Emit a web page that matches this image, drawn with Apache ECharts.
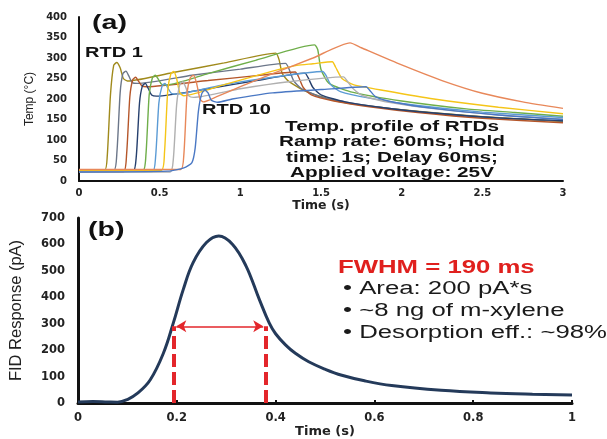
<!DOCTYPE html>
<html>
<head>
<meta charset="utf-8">
<script src="https://cdn.jsdelivr.net/npm/echarts@6.0.0/dist/echarts.min.js"></script>
<style>
  html, body { margin: 0; padding: 0; background: #fff; }
  #chart { width: 607px; height: 439px; }
</style>
</head>
<body>
<div id="chart"></div>
<script>
// panel (a): temperature profiles, [time s, temp C]
const rtd1 = [[0,27],[0.16,27],[0.175,60],[0.195,210],[0.215,282],[0.234,289],[0.255,276],[0.275,250],[0.3,244],[0.6,266],[0.9,288],[1.22,312],[1.24,296],[1.26,262],[1.3,243],[1.41,218],[1.62,193],[2.0,174],[2.5,157],[3.0,145]];
const rtd2 = [[0,25],[0.215,25],[0.235,70],[0.255,215],[0.272,262],[0.291,268],[0.31,255],[0.33,240],[0.36,238],[0.7,258],[1.0,273],[1.28,287],[1.3,275],[1.33,245],[1.38,225],[1.5,205],[1.75,186],[2.1,169],[2.5,156],[3.0,146]];
const rtd3 = [[0,22],[0.275,22],[0.295,65],[0.315,205],[0.333,247],[0.351,253],[0.37,243],[0.39,232],[0.42,230],[0.8,245],[1.1,257],[1.34,266],[1.36,255],[1.39,228],[1.44,210],[1.58,195],[1.8,181],[2.1,167],[2.5,153],[3.0,142]];
const rtd4 = [[0,24],[0.335,24],[0.355,60],[0.375,190],[0.393,232],[0.411,238],[0.43,225],[0.45,210],[0.48,207],[0.8,225],[1.1,245],[1.4,263],[1.42,252],[1.45,228],[1.5,210],[1.65,193],[1.9,178],[2.2,166],[2.6,154],[3.0,147]];
const rtd5 = [[0,25],[0.395,25],[0.415,65],[0.435,210],[0.455,252],[0.473,258],[0.492,248],[0.512,236],[0.54,234],[0.8,262],[1.1,295],[1.46,332],[1.48,320],[1.5,272],[1.55,238],[1.7,216],[2.0,195],[2.4,176],[2.7,167],[3.0,158]];
const rtd6 = [[0,23],[0.455,23],[0.475,60],[0.495,190],[0.515,232],[0.533,238],[0.552,226],[0.572,214],[0.6,212],[0.9,235],[1.2,253],[1.51,267],[1.53,258],[1.56,235],[1.62,218],[1.8,202],[2.1,184],[2.5,168],[3.0,155]];
const rtd7 = [[0,26],[0.51,26],[0.53,70],[0.55,220],[0.57,262],[0.587,267],[0.605,250],[0.625,215],[0.65,208],[0.9,235],[1.2,268],[1.35,282],[1.45,286],[1.57,291],[1.59,278],[1.63,250],[1.7,235],[1.9,220],[2.2,200],[2.6,180],[3.0,164]];
const rtd8 = [[0,22],[0.565,22],[0.585,55],[0.605,185],[0.625,236],[0.643,242],[0.662,228],[0.682,207],[0.71,204],[1.0,225],[1.3,242],[1.64,254],[1.66,245],[1.7,225],[1.76,208],[1.95,190],[2.25,174],[2.6,161],[3.0,151]];
const rtd9 = [[0,28],[0.63,28],[0.65,65],[0.67,215],[0.69,252],[0.709,258],[0.728,240],[0.75,200],[0.77,193],[0.85,205],[1.0,230],[1.2,262],[1.45,300],[1.68,337],[1.75,325],[2.0,283],[2.25,245],[2.5,214],[2.75,193],[3.0,177]];
const rtd10 = [[0,22],[0.55,24],[0.65,32],[0.7,45],[0.72,80],[0.74,170],[0.76,212],[0.78,222],[0.8,215],[0.82,197],[0.86,192],[0.95,200],[1.2,215],[1.5,223],[1.78,230],[1.8,222],[1.84,205],[1.95,192],[2.2,177],[2.6,161],[3.0,150]];

const rtdNames = ['RTD 1', 'RTD 2', 'RTD 3', 'RTD 4', 'RTD 5', 'RTD 6', 'RTD 7', 'RTD 8', 'RTD 9', 'RTD 10'];
const rtdColors = ['#a08a1c', '#6b7689', '#b5562a', '#26406e', '#6fae4a', '#5b9bd5', '#f5c518', '#b0b0b0', '#e8885a', '#4a78c4'];
const rtdCurves = [rtd1, rtd2, rtd3, rtd4, rtd5, rtd6, rtd7, rtd8, rtd9, rtd10];

// panel (b): FID response
const fidTime = [0, 0.03, 0.06, 0.08, 0.1, 0.12, 0.146, 0.173, 0.193, 0.213, 0.233, 0.26, 0.285, 0.313, 0.34, 0.367, 0.387, 0.4, 0.42, 0.44, 0.467, 0.5, 0.534, 0.58, 0.635, 0.735, 0.835, 0.92, 1.0];
const fidValue = [4, 6, 4, 3, 13, 36, 87, 189, 303, 429, 531, 607, 632, 600, 519, 392, 303, 262, 220, 188, 156, 128, 105, 84, 66, 48, 38, 33, 30];

const fwhmStart = 0.193;
const fwhmEnd = 0.381;
const fwhmLevel = 290;

const textBlock = ['Temp. profile of RTDs', 'Ramp rate: 60ms; Hold', 'time: 1s; Delay 60ms;', 'Applied voltage: 25V'];
const bullets = ['\u2022 Area: 200 pA*s', '\u2022 ~8 ng of m-xylene', '\u2022 Desorption eff.: ~98%'];

const chart = echarts.init(document.getElementById('chart'), null, { renderer: 'canvas' });

const tickFont = { fontFamily: 'DejaVu Sans', fontWeight: 'bold', color: '#222' };
const STRETCH = 1.43;

function stretchedText(text, x, y, font, align, fill) {
  return {
    type: 'text',
    x: x,
    y: y,
    scaleX: STRETCH,
    silent: true,
    style: {
      text: text,
      font: font,
      fill: fill || '#111',
      align: align,
      verticalAlign: 'middle'
    }
  };
}

const rtdSeries = rtdCurves.map((curve, i) => ({
  name: rtdNames[i],
  type: 'line',
  xAxisIndex: 0,
  yAxisIndex: 0,
  data: curve,
  showSymbol: false,
  smooth: 0.2,
  lineStyle: { width: 1.4, color: rtdColors[i] },
  itemStyle: { color: rtdColors[i] },
  z: 3
}));

const graphics = [
  stretchedText('(a)', 92, 23, 'bold 20px "Liberation Sans"', 'left'),
  stretchedText('(b)', 88, 230, 'bold 20px "Liberation Sans"', 'left'),
  stretchedText('RTD 1', 85, 53, 'bold 14px "Liberation Sans"', 'left'),
  stretchedText('RTD 10', 202, 110, 'bold 14px "Liberation Sans"', 'left'),
  stretchedText('FWHM = 190 ms', 338, 268, 'bold 18px "Liberation Sans"', 'left', '#e0201e')
];
textBlock.forEach((line, i) => {
  graphics.push(stretchedText(line, 392, 127 + i * 15.4, 'bold 14.5px "Liberation Sans"', 'center'));
});
bullets.forEach((line, i) => {
  graphics.push(stretchedText(line, 343, 289 + i * 22, '18px "Liberation Sans"', 'left', '#1a1a1a'));
});

const option = {
  animation: false,
  backgroundColor: '#fff',
  grid: [
    { left: 79, right: 44, top: 17, height: 164 },
    { left: 76, right: 35, top: 218, height: 185 }
  ],
  xAxis: [
    {
      gridIndex: 0,
      type: 'value',
      min: 0,
      max: 3,
      interval: 0.5,
      name: 'Time (s)',
      nameLocation: 'middle',
      nameGap: 17,
      nameTextStyle: { fontFamily: 'DejaVu Sans', fontWeight: 'bold', fontSize: 12.5, color: '#222' },
      axisLine: { lineStyle: { color: '#111', width: 2 } },
      axisTick: { show: false },
      axisLabel: Object.assign({ fontSize: 10, margin: 7 }, tickFont),
      splitLine: { show: false }
    },
    {
      gridIndex: 1,
      type: 'value',
      min: 0,
      max: 1,
      interval: 0.2,
      name: 'Time (s)',
      nameLocation: 'middle',
      nameGap: 21,
      nameTextStyle: { fontFamily: 'DejaVu Sans', fontWeight: 'bold', fontSize: 13, color: '#222' },
      axisLine: { lineStyle: { color: '#111', width: 3 } },
      axisTick: { show: true, inside: true, length: 3, lineStyle: { color: '#111', width: 2 } },
      axisLabel: Object.assign({ fontSize: 11.5, margin: 9 }, tickFont),
      splitLine: { show: false }
    }
  ],
  yAxis: [
    {
      gridIndex: 0,
      type: 'value',
      min: 0,
      max: 400,
      interval: 50,
      name: 'Temp (\u00b0C)',
      nameLocation: 'middle',
      nameGap: 42,
      nameTextStyle: { fontFamily: 'Liberation Sans', fontSize: 12, color: '#222' },
      axisLine: { show: true, lineStyle: { color: '#111', width: 2 } },
      axisTick: { show: false },
      axisLabel: Object.assign({ fontSize: 10, margin: 12 }, tickFont),
      splitLine: { show: false }
    },
    {
      gridIndex: 1,
      type: 'value',
      min: 0,
      max: 700,
      interval: 100,
      name: 'FID Response (pA)',
      nameLocation: 'middle',
      nameGap: 53,
      nameTextStyle: { fontFamily: 'Liberation Sans', fontSize: 16.5, color: '#222' },
      axisLine: { show: true, lineStyle: { color: '#111', width: 3 } },
      axisTick: { show: false },
      axisLabel: Object.assign({ fontSize: 11.5, margin: 13 }, tickFont),
      splitLine: { show: false }
    }
  ],
  graphic: graphics,
  series: rtdSeries.concat([
    {
      name: 'FID',
      type: 'line',
      xAxisIndex: 1,
      yAxisIndex: 1,
      data: fidTime.map((t, i) => [t, fidValue[i]]),
      showSymbol: false,
      smooth: 0.4,
      lineStyle: { width: 3, color: '#243a5a' },
      itemStyle: { color: '#243a5a' },
      z: 3,
      markLine: {
        silent: true,
        animation: false,
        symbol: 'none',
        label: { show: false },
        emphasis: { disabled: true },
        data: [
          [
            { coord: [fwhmStart, 0], lineStyle: { color: '#e3262b', width: 4, type: [13, 5] } },
            { coord: [fwhmStart, fwhmLevel] }
          ],
          [
            { coord: [fwhmEnd, 0], lineStyle: { color: '#e3262b', width: 4, type: [13, 5] } },
            { coord: [fwhmEnd, fwhmLevel] }
          ],
          [
            { coord: [fwhmStart + 0.006, fwhmLevel], symbol: 'arrow', symbolSize: [9, 10], lineStyle: { color: '#e3262b', width: 1.6, type: 'solid' } },
            { coord: [fwhmEnd - 0.006, fwhmLevel], symbol: 'arrow', symbolSize: [9, 10] }
          ]
        ]
      }
    }
  ])
};

chart.setOption(option);
</script>
</body>
</html>
